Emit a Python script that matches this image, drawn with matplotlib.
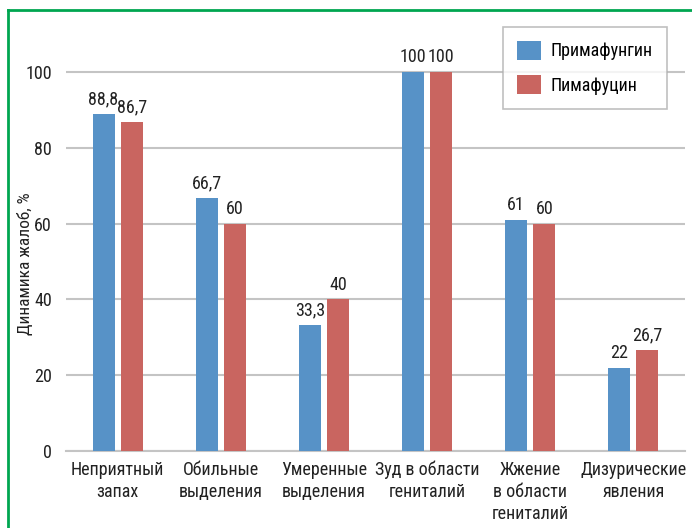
import matplotlib
matplotlib.use("Agg")
import matplotlib.pyplot as plt
import numpy as np
from matplotlib.lines import Line2D

plt.rcParams['font.family'] = ['Roboto Condensed', 'Roboto', 'DejaVu Sans']

categories = ["Неприятный\nзапах", "Обильные\nвыделения", "Умеренные\nвыделения",
              "Зуд в области\nгениталий", "Жжение\nв области\nгениталий", "Дизурические\nявления"]
primafungin = [88.8, 66.7, 33.3, 100, 61, 22]
pimafucin = [86.7, 60, 40, 100, 60, 26.7]
labels_primafungin = ["88,8", "66,7", "33,3", "100", "61", "22"]
labels_pimafucin = ["86,7", "60", "40", "100", "60", "26,7"]

blue = "#5792C7"
red = "#C96560"
grid_col = "#C4C4C4"
txt = "#222222"
fs = 13

fig = plt.figure(figsize=(6.92, 5.28), dpi=100)
ax = fig.add_axes([66 / 692, 1 - 451 / 528, 619 / 692, 417 / 528])

x = np.arange(len(categories))
w = 0.213
off = 0.136
b1 = ax.bar(x - off, primafungin, w, color=blue, label="Примафунгин", zorder=3)
b2 = ax.bar(x + off, pimafucin, w, color=red, label="Пимафуцин", zorder=3)

for bars, labs in ((b1, labels_primafungin), (b2, labels_pimafucin)):
    for rect, lab in zip(bars, labs):
        ax.annotate(lab, (rect.get_x() + rect.get_width() / 2, rect.get_height()),
                    xytext=(0, 4), textcoords="offset points",
                    ha="center", va="bottom", fontsize=fs, color=txt)

ax.set_xlim(-0.5, len(categories) - 0.5)
ax.set_ylim(0, 110)
ax.set_yticks(range(0, 101, 20))
ax.yaxis.grid(True, color=grid_col, linewidth=1.5, zorder=0)
ax.set_axisbelow(True)
for s in ["top", "right", "left"]:
    ax.spines[s].set_visible(False)
ax.spines["bottom"].set_color(grid_col)
ax.spines["bottom"].set_linewidth(1.5)
ax.tick_params(axis="both", length=0, labelsize=fs, colors=txt)
ax.tick_params(axis="y", pad=10)
ax.tick_params(axis="x", pad=7)
ax.set_xticks(x)
ax.set_xticklabels(categories, linespacing=1.3)
ax.set_ylabel("Динамика жалоб, %", fontsize=12.5, color=txt)
ax.yaxis.set_label_coords(-0.053, 0.449)

leg = ax.legend(loc="upper right", bbox_to_anchor=(0.971, 1.017), borderaxespad=0,
                fontsize=fs, frameon=True, fancybox=False, handlelength=1.3,
                handleheight=1.2, labelspacing=0.83, borderpad=0.78, handletextpad=0.55)
leg.get_frame().set_edgecolor("#B0B0B0")
leg.get_frame().set_linewidth(1.2)

# green frame at top and left edges
green = "#00A650"
fig.add_artist(Line2D([8 / 692, 1], [1 - 10 / 528, 1 - 10 / 528], color=green, linewidth=2,
                      transform=fig.transFigure))
fig.add_artist(Line2D([8 / 692, 8 / 692], [0, 1 - 10 / 528], color=green, linewidth=2,
                      transform=fig.transFigure))

fig.savefig("out.png", dpi=100)
